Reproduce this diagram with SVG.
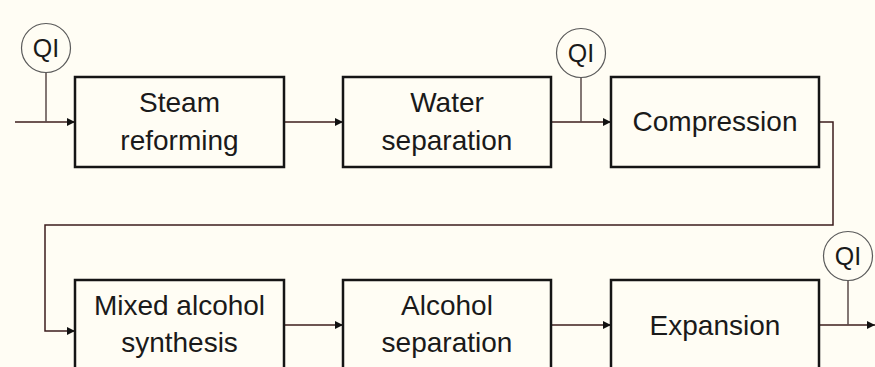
<svg xmlns="http://www.w3.org/2000/svg" width="875" height="367" viewBox="0 0 875 367">
  <defs>
    <marker id="arrow" viewBox="0 0 10 10" refX="10" refY="5" markerWidth="8" markerHeight="8" markerUnits="userSpaceOnUse" orient="auto">
      <path d="M0,0 L10,5 L0,10 z" fill="#111"/>
    </marker>
    <style>
      .box { fill: none; stroke: #151515; stroke-width: 2.5; }
      .lbl { font-family: "Liberation Sans", Arial, sans-serif; font-size: 28px; fill: #1a1a1a; text-anchor: middle; }
      .qi circle { fill: none; stroke: #5a5a5a; stroke-width: 1.2; }
      .qi text { font-family: "Liberation Sans", Arial, sans-serif; font-size: 25px; fill: #1a1a1a; text-anchor: middle; }
      .stem { stroke: #5a4a4a; stroke-width: 1.5; fill: none; }
      .flow { stroke: #3d1c1c; stroke-width: 1.5; fill: none; }
    </style>
  </defs>

  <rect width="875" height="367" fill="#fffdf4"/>

  <!-- process flow lines -->
  <g id="connectors">
    <path class="flow" d="M15,122 H75" marker-end="url(#arrow)"/>
    <path class="flow" d="M284,122 H343" marker-end="url(#arrow)"/>
    <path class="flow" d="M551,122 H611" marker-end="url(#arrow)"/>
    <path class="flow" d="M819,122 H833 V225 H45 V331 H75" marker-end="url(#arrow)"/>
    <path class="flow" d="M284,325 H343" marker-end="url(#arrow)"/>
    <path class="flow" d="M551,325 H611" marker-end="url(#arrow)"/>
    <path class="flow" d="M819,325 H875" marker-end="url(#arrow)"/>
    <path class="stem" d="M46,72 V122"/>
    <path class="stem" d="M581,77 V122"/>
    <path class="stem" d="M848,280 V325"/>
  </g>

  <!-- quality indicators -->
  <g id="qi-feed" class="qi">
    <circle cx="46" cy="48" r="24.5"/>
    <text x="46" y="57">QI</text>
  </g>
  <g id="qi-syngas" class="qi">
    <circle cx="581" cy="53" r="24.5"/>
    <text x="581" y="62">QI</text>
  </g>
  <g id="qi-product" class="qi">
    <circle cx="848" cy="256" r="24.5"/>
    <text x="848" y="265">QI</text>
  </g>

  <!-- unit operations -->
  <g id="steam-reforming">
    <rect class="box" x="75" y="77" width="209" height="90"/>
    <text class="lbl" x="179.5" y="112">Steam</text>
    <text class="lbl" x="179.5" y="150">reforming</text>
  </g>
  <g id="water-separation">
    <rect class="box" x="343" y="77" width="208" height="90"/>
    <text class="lbl" x="447" y="112">Water</text>
    <text class="lbl" x="447" y="150">separation</text>
  </g>
  <g id="compression">
    <rect class="box" x="611" y="77" width="208" height="90"/>
    <text class="lbl" x="715" y="131">Compression</text>
  </g>
  <g id="mixed-alcohol-synthesis">
    <rect class="box" x="75" y="280" width="209" height="90"/>
    <text class="lbl" x="179.5" y="315">Mixed alcohol</text>
    <text class="lbl" x="179.5" y="352">synthesis</text>
  </g>
  <g id="alcohol-separation">
    <rect class="box" x="343" y="280" width="208" height="90"/>
    <text class="lbl" x="447" y="315">Alcohol</text>
    <text class="lbl" x="447" y="352">separation</text>
  </g>
  <g id="expansion">
    <rect class="box" x="611" y="280" width="208" height="90"/>
    <text class="lbl" x="715" y="335">Expansion</text>
  </g>
</svg>
